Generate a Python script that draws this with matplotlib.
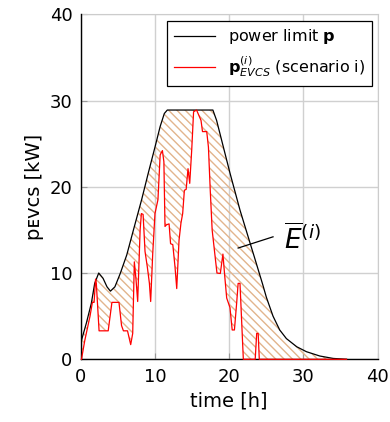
import matplotlib
matplotlib.use("Agg")
import matplotlib.pyplot as plt
import numpy as np

plt.rcParams['font.family'] = ['DejaVu Sans', 'Noto Sans']
plt.rcParams['mathtext.fontset'] = 'dejavusans'
plt.rcParams['hatch.linewidth'] = 1.0

# power limit p (black)
limit_t = [0.0, 0.76, 1.43, 1.88, 2.42, 3.0, 3.54, 4.0, 4.6, 5.3, 6.2, 7.1, 8.2, 9.1,
           10.0, 10.7, 11.26, 11.66, 17.8, 18.3, 20.1, 21.45, 22.8, 23.3, 23.9, 24.5,
           25.0, 25.9, 26.8, 27.7, 29.1, 30.4, 32.2, 34.0, 35.8]
limit_p = [1.9, 4.2, 6.5, 8.8, 10.0, 9.4, 8.4, 7.9, 8.4, 9.9, 12.1, 15.0, 18.5, 21.6,
           24.6, 27.0, 28.5, 28.9, 28.9, 27.7, 21.6, 17.3, 13.5, 12.1, 10.4, 8.7,
           7.2, 5.0, 3.4, 2.4, 1.45, 0.88, 0.38, 0.1, 0.0]

# p_EVCS scenario i (red)
evcs_t = [0.1, 0.55, 1.25, 1.57, 1.8, 2.0, 2.1, 2.47, 3.7, 4.2, 5.15, 5.5, 5.75, 6.3,
          6.73, 7.0, 7.22, 7.45, 7.67, 8.0, 8.17, 8.4, 8.66, 8.97, 9.25, 9.42, 9.7,
          10.0, 10.4, 10.7, 11.0, 11.2, 11.35, 11.56, 11.9, 12.1, 12.4, 12.7, 12.93,
          13.24, 13.5, 13.73, 13.96, 14.2, 14.45, 14.68, 14.95, 15.2, 15.6, 15.8, 16.2,
          16.4, 16.97, 17.2, 17.45, 17.7, 18.1, 18.35, 18.8, 19.15, 19.4, 19.66, 20.1,
          20.4, 20.7, 21.0, 21.2, 21.45, 21.9, 23.5, 23.7, 23.9, 24.05, 35.8]
evcs_p = [0.0, 2.2, 5.0, 6.6, 6.6, 9.3, 8.8, 3.3, 3.3, 6.6, 6.6, 3.9, 3.3, 3.3,
          1.7, 3.0, 11.3, 9.2, 6.7, 15.0, 16.9, 16.8, 12.5, 10.7, 8.8, 6.7, 12.3,
          16.9, 18.5, 23.7, 24.2, 22.9, 15.4, 15.6, 15.7, 13.4, 13.3, 10.7, 8.2,
          13.8, 15.8, 16.9, 19.6, 19.7, 22.1, 20.4, 24.3, 28.7, 28.9, 28.5, 27.7,
          26.4, 26.4, 24.6, 19.5, 15.0, 11.9, 10.0, 9.95, 12.2, 9.6, 7.1, 6.0,
          3.4, 3.4, 6.5, 8.8, 8.8, 0.0, 0.0, 3.0, 3.0, 0.0, 0.0]

ticks = [0, 10, 20, 30, 40]

fig = plt.figure(figsize=(3.9, 4.22), dpi=100)
ax = fig.add_axes([0.207, 0.1486, 0.7615, 0.8175])

# hatched area between limit and scenario
poly_t = np.concatenate([limit_t, evcs_t[::-1]])
poly_p = np.concatenate([limit_p, evcs_p[::-1]])
ax.fill(poly_t, poly_p, facecolor='none', edgecolor='#e2b48c', linewidth=0,
        hatch='\\\\\\\\', zorder=2)

ax.plot(limit_t, limit_p, color='black', lw=0.9, label=r'power limit $\mathbf{p}$', zorder=4)
ax.plot(evcs_t, evcs_p, color='red', lw=0.9, label=r'$\mathbf{p}^{(i)}_{EVCS}$ (scenario i)',
        zorder=5, clip_on=False)

# annotation of the energy area
ax.plot([21.2, 25.9], [12.9, 14.2], color='black', lw=0.9, zorder=6)
ax.text(27.4, 13.9, r'$\overline{E}^{(i)}$', fontsize=19, va='center', ha='left')

ax.set_xlim(0, 40)
ax.set_ylim(0, 40)
ax.set_xticks(ticks)
ax.set_yticks(ticks)
ax.tick_params(direction='in', length=4, color='#999999', labelsize=13, pad=6)
ax.grid(True, color='#d0d0d0', lw=1)
ax.set_axisbelow(True)
for s in ['top', 'right']:
    ax.spines[s].set_color('#cccccc')
for s in ['left', 'bottom']:
    ax.spines[s].set_color('black')
    ax.spines[s].set_linewidth(1.0)
    ax.spines[s].set_zorder(3)

ax.set_xlabel('time [h]', fontsize=14)
ax.set_ylabel('pᴇᴠᴄs [kW]', fontsize=14)

leg = ax.legend(loc='upper right', bbox_to_anchor=(0.98, 0.981), borderaxespad=0,
                fancybox=False, edgecolor='black', framealpha=1, fontsize=11.5,
                handlelength=2.6)
leg.get_frame().set_linewidth(0.9)

fig.savefig('out.png', dpi=100)
